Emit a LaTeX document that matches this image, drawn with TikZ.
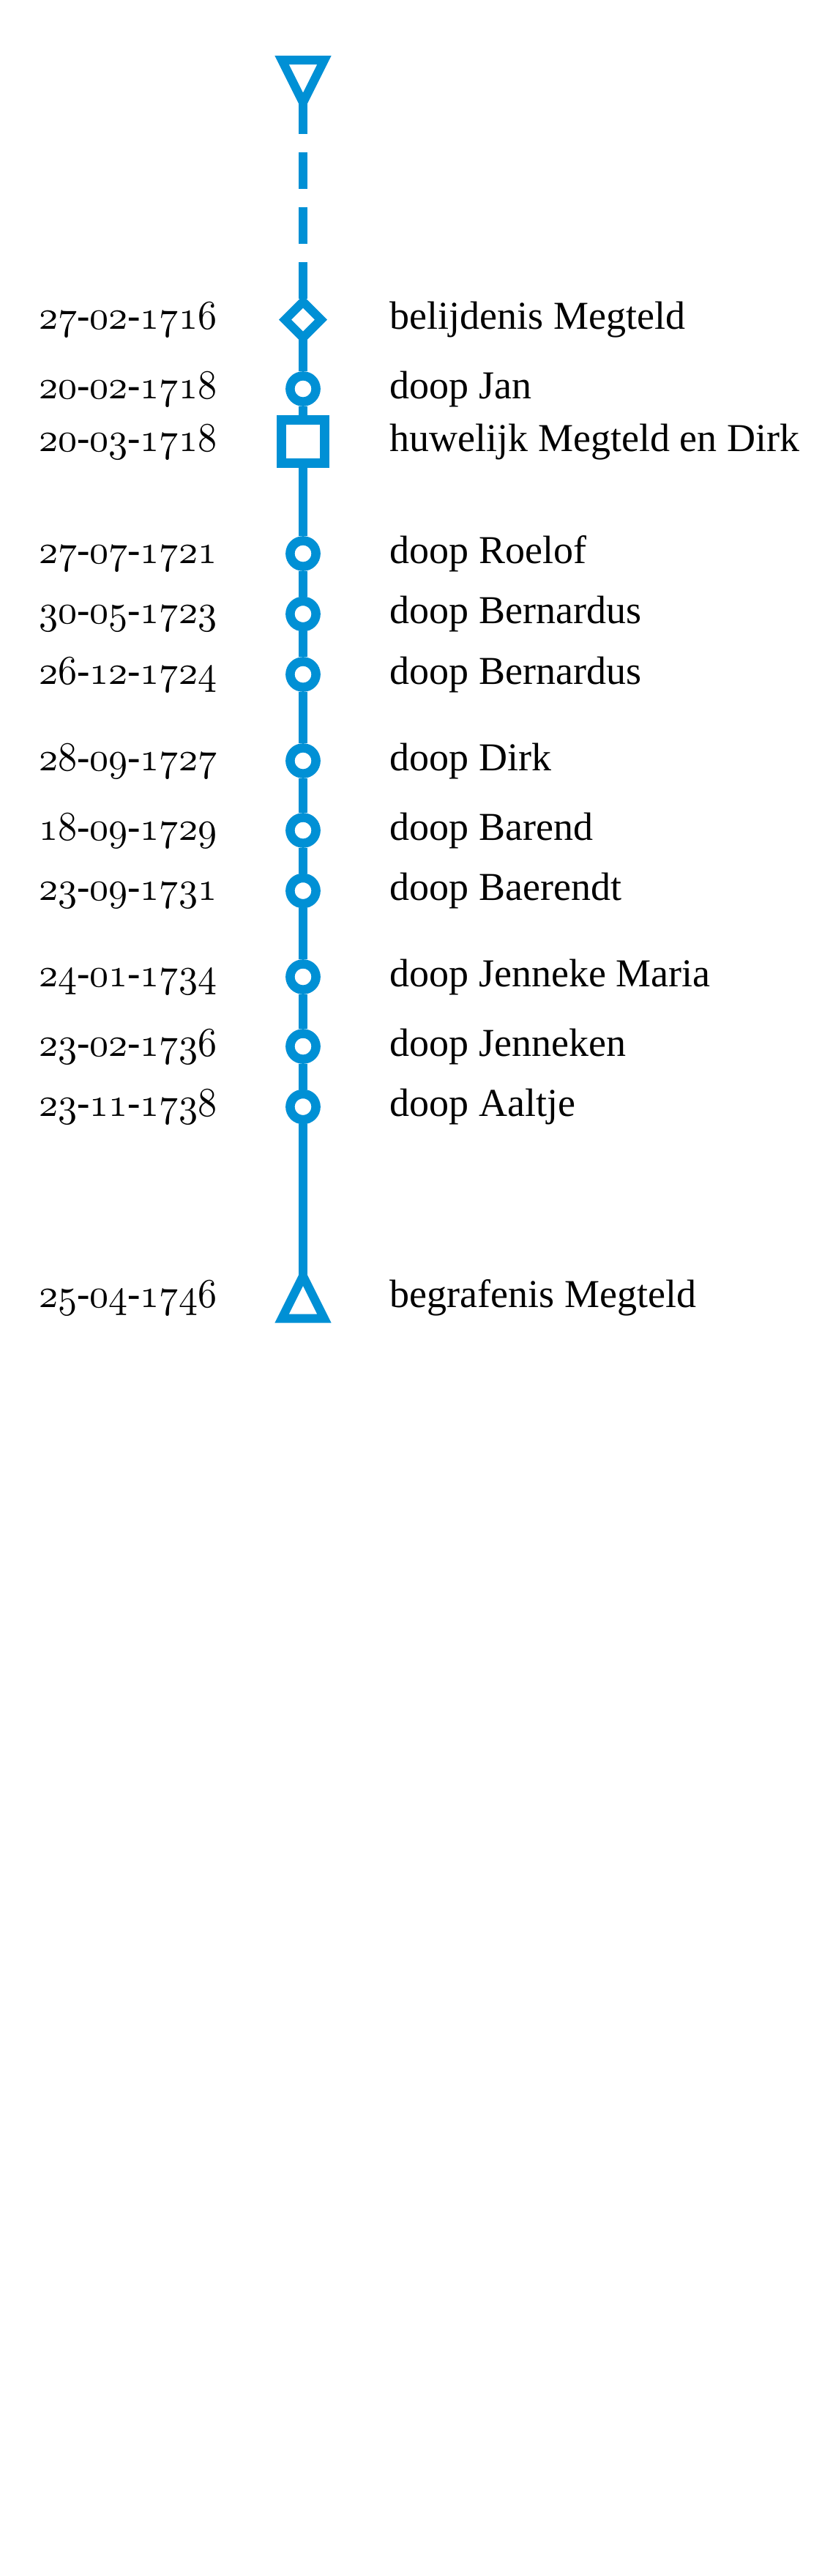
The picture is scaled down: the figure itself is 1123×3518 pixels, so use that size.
\documentclass[tikz,border=0pt]{standalone}
\usepackage{fontspec}
\setmainfont{Liberation Serif}
\definecolor{tlblue}{HTML}{0090D5}
\font\tldigits=cmmi10 at 28pt
\newcommand\osdig[1]{{\tldigits #1}}
\newcommand\tldate[3]{\scalebox{0.93}[1]{\osdig{#1}-\osdig{#2}-\osdig{#3}}}
\begin{document}
\begin{tikzpicture}[x=0.5pt,y=-0.5pt,
  tl/.style={draw=tlblue,line width=6pt},
  tldash/.style={tl,dash pattern=on 25pt off 12.5pt,dash phase=3.5pt},
  circ/.style={circle,draw=tlblue,fill=white,line width=6.25pt,minimum size=17.6pt,inner sep=0pt},
  sq/.style={rectangle,draw=tlblue,fill=white,line width=6.15pt,minimum size=29.6pt,inner sep=0pt},
  tri/.style={draw=tlblue,fill=white,line width=6pt,line join=miter},
  lab/.style={anchor=base west,inner sep=0pt,font=\fontsize{27}{32}\selectfont},
  dt/.style={anchor=base east,inner sep=0pt,font=\fontsize{28}{32}\selectfont}]
\fill[white] (0,0) rectangle (1123,3518);
\useasboundingbox (0,0) rectangle (1123,3518);

% end points of the line
\coordinate (ta) at (414,140);
\coordinate (tb) at (414,1742.7);
\coordinate (m1) at (414,436.7);

% markers
\node[circ] (m2)  at (414,531) {};
\node[sq]   (m3)  at (414,603) {};
\node[circ] (m4)  at (414,756) {};
\node[circ] (m5)  at (414,838.5) {};
\node[circ] (m6)  at (414,921) {};
\node[circ] (m7)  at (414,1039) {};
\node[circ] (m8)  at (414,1134) {};
\node[circ] (m9)  at (414,1216.5) {};
\node[circ] (m10) at (414,1334) {};
\node[circ] (m11) at (414,1429) {};
\node[circ] (m12) at (414,1511.5) {};

% connectors
\draw[tldash] (ta) -- (m1);
\draw[tl] (m1) -- (m2);
\draw[tl] (m2) -- (m3);
\draw[tl] (m3) -- (m4);
\draw[tl] (m4) -- (m5);
\draw[tl] (m5) -- (m6);
\draw[tl] (m6) -- (m7);
\draw[tl] (m7) -- (m8);
\draw[tl] (m8) -- (m9);
\draw[tl] (m9) -- (m10);
\draw[tl] (m10) -- (m11);
\draw[tl] (m11) -- (m12);
\draw[tl] (m12) -- (tb);

% start, confession and end symbols
\draw[tri] (385,82) -- (443,82) -- (ta) -- cycle;
\draw[tri] (m1) ++(0,-24.5) -- ++(24.5,24.5) -- ++(-24.5,24.5) -- ++(-24.5,-24.5) -- cycle;
\draw[tri] (385,1800.7) -- (443,1800.7) -- (tb) -- cycle;

% dates
\node[dt] (d1)  at (296.5,449.5)  {\tldate{27}{02}{1716}};
\node[dt] (d2)  at (296.5,544)    {\tldate{20}{02}{1718}};
\node[dt] (d3)  at (296.5,616)    {\tldate{20}{03}{1718}};
\node[dt] (d4)  at (296.5,769)    {\tldate{27}{07}{1721}};
\node[dt] (d5)  at (296.5,851.5)  {\tldate{30}{05}{1723}};
\node[dt] (d6)  at (296.5,934)    {\tldate{26}{12}{1724}};
\node[dt] (d7)  at (296.5,1052)   {\tldate{28}{09}{1727}};
\node[dt] (d8)  at (296.5,1147)   {\tldate{18}{09}{1729}};
\node[dt] (d9)  at (296.5,1229.5) {\tldate{23}{09}{1731}};
\node[dt] (d10) at (296.5,1347)   {\tldate{24}{01}{1734}};
\node[dt] (d11) at (296.5,1442)   {\tldate{23}{02}{1736}};
\node[dt] (d12) at (296.5,1524.5) {\tldate{23}{11}{1738}};
\node[dt] (d13) at (296.5,1785)   {\tldate{25}{04}{1746}};

% labels
\node[lab] (l1)  at (532.5,449.5)  {belijdenis Megteld};
\node[lab] (l2)  at (532.5,544)    {doop Jan};
\node[lab] (l3)  at (532.5,616)    {huwelijk Megteld en Dirk};
\node[lab] (l4)  at (532.5,769)    {doop Roelof};
\node[lab] (l5)  at (532.5,851.5)  {doop Bernardus};
\node[lab] (l6)  at (532.5,934)    {doop Bernardus};
\node[lab] (l7)  at (532.5,1052)   {doop Dirk};
\node[lab] (l8)  at (532.5,1147)   {doop Barend};
\node[lab] (l9)  at (532.5,1229.5) {doop Baerendt};
\node[lab] (l10) at (532.5,1347)   {doop Jenneke Maria};
\node[lab] (l11) at (532.5,1442)   {doop Jenneken};
\node[lab] (l12) at (532.5,1524.5) {doop Aaltje};
\node[lab] (l13) at (532.5,1785)   {begrafenis Megteld};
\end{tikzpicture}
\end{document}
